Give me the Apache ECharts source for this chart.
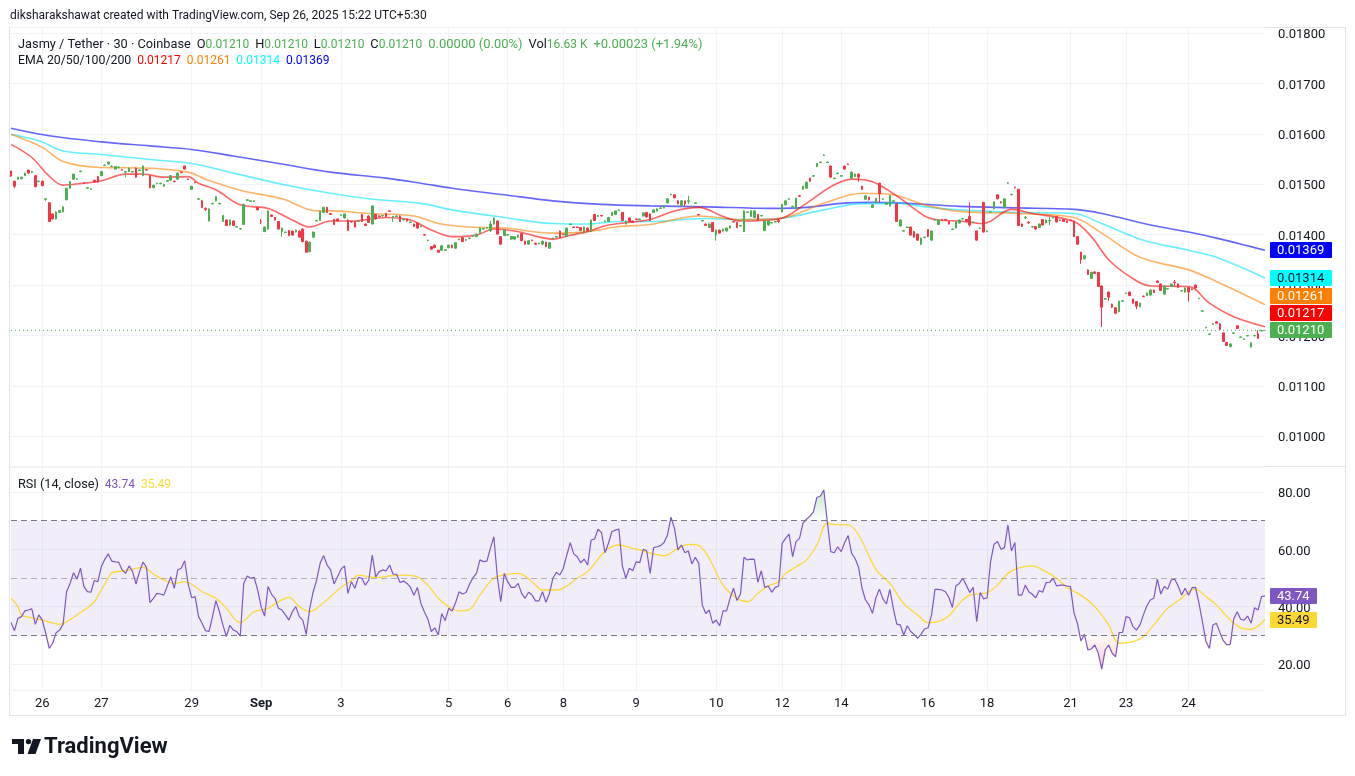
<!DOCTYPE html>
<html><head><meta charset="utf-8">
<script src="https://cdn.jsdelivr.net/npm/echarts@6/dist/echarts.min.js"></script>
<style>html,body{margin:0;padding:0;background:#fff;}#c{width:1355px;height:776px;}</style>
</head><body><div id="c"></div>
<script>
// ---------- data ----------
const dayLabels = ['26','27','29','Sep','3','5','6','8','9','10','12','14','16','18','21','23','24'];
const dayLabelBars = [9,26,52,72,95,126,143,159,180,203,222,239,264,281,305,321,339];

// [open, close, low, high]
const candles = [
[.01526,.01516,.01515,.01527],[.01506,.01496,.01492,.01507],[.0151,.01514,.01509,.01514],[.01511,.01514,.0151,.01515],[.01517,.01522,.01516,.01523],
[.01528,.01522,.01521,.01529],[.01523,.01525,.01522,.01526],[.01517,.01495,.01494,.01518],[.01505,.01506,.01504,.01507],[.01506,.01497,.01496,.01507],
[.0147,.01471,.01467,.01472],[.01463,.01426,.01425,.01464],[.01441,.01431,.0143,.01442],[.01431,.01445,.0143,.01446],[.01444,.01448,.01443,.01449],
[.01445,.01455,.01444,.01456],[.01469,.01492,.01468,.01493],[.01492,.01505,.01491,.01506],[.0151,.0152,.01509,.01521],[.0151,.01511,.01509,.01512],
[.01525,.01526,.01524,.01527],[.01503,.01502,.01501,.01504],[.01492,.01493,.01491,.01494],[.0149,.01491,.01489,.01492],[.01508,.01504,.01503,.01509],
[.01515,.01504,.01503,.01516],[.01517,.01525,.01516,.01526],[.01537,.01538,.01536,.01539],[.0154,.01544,.01539,.01545],[.01535,.01536,.01534,.01537],
[.0153,.01535,.01529,.01536],[.01533,.01534,.01532,.01535],[.01529,.01528,.01527,.0153],[.01524,.01525,.01514,.01526],[.01525,.01532,.01524,.01533],
[.01524,.01525,.01523,.01526],[.01532,.01514,.01513,.01533],[.01527,.01528,.01526,.01529],[.01517,.01536,.01516,.01537],[.01529,.01528,.01527,.0153],
[.01517,.01493,.01492,.01518],[.01493,.01498,.01492,.01499],[.01501,.01502,.015,.01503],[.01501,.01502,.015,.01503],[.01496,.015,.01495,.01501],
[.01506,.01507,.01505,.01508],[.01508,.01517,.01507,.01518],[.01506,.01505,.01504,.01507],[.0151,.01522,.01509,.01523],[.01524,.01523,.01522,.01525],
[.01536,.0153,.01529,.01537],[.0151,.01509,.01508,.01511],[.0149,.01496,.01489,.01497],[.01504,.01503,.01502,.01505],[.0147,.01471,.01469,.01472],
[.01467,.01454,.01453,.01468],[.01452,.0145,.01447,.01454],[.01427,.01451,.01426,.01452],[.01461,.01462,.0146,.01463],[.01467,.01475,.01466,.01476],
[.01461,.01462,.0146,.01463],[.01426,.01438,.01425,.01439],[.01429,.01418,.01417,.0143],[.01419,.01429,.01418,.0143],[.01427,.01418,.01417,.01428],
[.01415,.01416,.01414,.01417],[.01411,.01412,.0141,.01413],[.0142,.0146,.01419,.01461],[.01468,.01469,.01467,.0147],[.01466,.01467,.01465,.01468],
[.01466,.01467,.01465,.01468],[.01454,.01449,.01448,.01455],[.01426,.01425,.01421,.01431],[.01406,.01415,.01405,.01416],[.01411,.01447,.0141,.01448],
[.01439,.01436,.01435,.0144],[.01434,.01429,.01428,.01435],[.01426,.01411,.0141,.01427],[.01406,.01413,.01396,.01414],[.01404,.01405,.01403,.01406],
[.01408,.01398,.01397,.01409],[.01407,.01399,.01398,.01408],[.01405,.01409,.01404,.0141],[.01407,.01395,.01394,.01408],[.01411,.01386,.01385,.01412],
[.01387,.01365,.01364,.01388],[.01366,.01385,.01365,.01386],[.01395,.01405,.01394,.01406],[.01427,.01428,.01426,.01429],[.01428,.01446,.01427,.01447],
[.01444,.01454,.01443,.01455],[.01454,.01444,.01443,.01455],[.01442,.0144,.01439,.01443],
[.0143,.0142,.01419,.01431],[.01431,.01427,.01426,.01432],[.01438,.01439,.01437,.0144],[.01433,.01441,.01432,.01442],[.01429,.01408,.01407,.0143],
[.01426,.01425,.01424,.01427],[.01426,.01415,.01414,.01427],[.01426,.01427,.01425,.01428],[.0144,.01426,.01425,.01441],[.01421,.01418,.01417,.01422],
[.01437,.01424,.01423,.01438],[.01421,.01457,.0142,.01458],[.0144,.01431,.0143,.01441],[.01437,.01436,.01435,.01438],[.01437,.01438,.01436,.01439],
[.01442,.01436,.01435,.01443],[.01447,.01446,.01445,.01448],[.01435,.01436,.01425,.01437],[.01436,.01437,.01435,.01438],[.01437,.01426,.01425,.01438],
[.01429,.0143,.01428,.01431],[.01431,.01427,.01426,.01432],[.01424,.01425,.01423,.01426],[.01421,.01416,.01415,.01422],[.01423,.01413,.01412,.01424],
[.01416,.01417,.01415,.01418],[.014,.01399,.01398,.01401],[.01388,.01389,.01387,.0139],[.01376,.01371,.0137,.01377],[.01379,.01374,.01373,.0138],
[.01369,.01365,.01364,.0137],[.01369,.01378,.01368,.01379],[.01369,.0137,.01368,.01371],[.01374,.01379,.01373,.0138],[.01379,.01374,.01373,.0138],
[.01373,.01384,.01372,.01385],[.0139,.01391,.01389,.01392],[.01394,.01386,.01385,.01395],[.01389,.0139,.01388,.01391],[.01392,.01393,.01391,.01394],
[.01397,.01398,.01396,.01399],[.01396,.01401,.01395,.01402],[.01403,.01413,.01402,.01414],[.01411,.01412,.0141,.01413],[.01413,.01414,.01412,.01415],
[.01408,.01421,.01405,.01427],[.01421,.01433,.0142,.01434],[.01427,.01401,.014,.01428],[.01396,.01381,.0138,.01397],[.01398,.01409,.01397,.0141],
[.01399,.014,.01398,.01401],[.01391,.01396,.0139,.01397],[.01391,.01396,.0139,.01397],[.01395,.01399,.01394,.014],[.01402,.01388,.01387,.01403],
[.01387,.01381,.0138,.01388],[.01381,.01388,.0138,.01389],[.01389,.01388,.01387,.0139],[.01383,.01381,.0138,.01384],[.01382,.01383,.01381,.01384],
[.01381,.01387,.0138,.01388],[.01385,.01376,.01375,.01386],[.01373,.01384,.01372,.01385],[.01392,.01393,.01391,.01394],[.01395,.01396,.01394,.01397],
[.01407,.01394,.01393,.01408],[.01401,.014,.01399,.01402],[.01396,.01413,.01395,.01414],[.0142,.01421,.01419,.01422],[.01415,.01414,.01413,.01416],
[.01415,.01414,.01413,.01416],[.01414,.01408,.01407,.01415],[.01403,.01415,.01402,.01416],[.01413,.01408,.01407,.01414],[.01406,.01429,.01405,.0143],
[.0144,.01428,.01427,.01441],[.01436,.01438,.01435,.01439],[.01438,.01437,.01436,.01439],[.01426,.01427,.01425,.01428],[.01426,.01434,.01425,.01435],
[.01438,.01444,.01437,.01445],[.0144,.01447,.01439,.01448],[.01448,.01449,.01447,.0145],[.01444,.01428,.01427,.01445],[.01421,.01427,.0142,.01428],
[.01433,.01426,.01425,.01434],[.01427,.01424,.01423,.01428],[.01431,.0143,.01429,.01432],[.0143,.01431,.01429,.01432],[.01437,.01443,.01436,.01444],
[.01444,.01435,.01434,.01445],
[.01441,.01428,.01427,.01442],[.01444,.01449,.01443,.0145],[.01447,.01451,.01446,.01452],[.01452,.01453,.01451,.01454],[.01453,.01457,.01452,.01458],
[.01463,.01471,.01462,.01472],[.01479,.0148,.01478,.01481],[.01479,.01473,.01472,.0148],[.01467,.01461,.0146,.01468],[.01457,.01467,.01456,.01468],
[.01467,.01461,.01456,.01467],[.01466,.01467,.01461,.01477],[.01455,.01456,.01454,.01457],[.01462,.01463,.01461,.01464],[.0144,.01439,.01438,.01441],
[.01427,.01428,.01426,.01429],[.01421,.01418,.01417,.01422],[.01414,.01421,.01413,.01422],[.01424,.01406,.01405,.01425],[.01399,.01409,.01388,.0141],
[.01409,.01403,.01402,.0141],[.01407,.01411,.01406,.01412],[.01407,.01413,.01406,.01414],[.01413,.01417,.01412,.01418],[.01426,.01425,.01424,.01427],
[.01424,.01414,.01413,.01425],[.01417,.01418,.01416,.01419],[.01406,.01447,.01405,.01448],[.01444,.01445,.01443,.01446],[.01436,.01447,.01435,.01448],
[.01434,.01447,.01433,.01448],[.0144,.01429,.01428,.01441],[.01437,.01438,.01436,.01439],[.01408,.01427,.01407,.01428],[.01419,.01427,.01418,.01428],
[.01423,.01424,.01422,.01425],[.01425,.01426,.01424,.01427],[.01428,.01426,.01423,.01433],[.01445,.0146,.01444,.01461],[.01459,.01467,.01458,.01468],
[.0147,.01471,.01469,.01472],[.01455,.01456,.01454,.01457],[.01451,.01472,.0145,.01473],[.01477,.01476,.01475,.01478],[.0149,.01496,.01489,.01497],
[.01492,.01504,.01491,.01505],[.01512,.01506,.01505,.01513],[.01516,.01517,.01515,.01518],[.01535,.01541,.01534,.01542],[.01543,.01544,.01542,.01545],
[.01557,.01558,.01556,.01559],[.01543,.01544,.01542,.01545],[.01536,.01514,.01513,.01537],[.01511,.01512,.0151,.01513],[.01521,.01522,.0152,.01523],
[.01516,.01517,.01515,.01518],[.01536,.0153,.01529,.01537],[.0154,.01539,.01538,.01541],[.01512,.01524,.01511,.01525],[.01515,.0152,.01514,.01521],
[.0152,.01514,.01505,.01521],[.01496,.0149,.01489,.01497],[.0147,.01477,.01469,.01478],[.01474,.01469,.01468,.01475],[.01454,.01459,.01453,.0146],
[.01463,.01472,.01462,.01473],[.01502,.01481,.01463,.01503],[.0147,.01471,.01469,.01472],[.0146,.01463,.01459,.01464],[.01457,.01477,.01456,.01478],
[.01466,.01467,.01465,.01468],[.01461,.01426,.01425,.01462],[.01417,.01429,.01416,.0143],[.01407,.01408,.01406,.01409],[.01414,.01415,.01413,.01416],
[.01415,.01399,.01398,.01416],[.01406,.01395,.01394,.01407],[.01401,.01389,.01388,.01402],[.01381,.01393,.01379,.01394],[.01394,.01395,.01393,.01396],
[.0141,.01396,.01395,.01411],[.01389,.01407,.01388,.01408],[.01429,.0143,.01428,.01431],[.0142,.01429,.01419,.0143],[.0143,.01429,.01428,.01431],
[.0143,.01429,.01428,.01431],[.01426,.01421,.0142,.01427],[.0141,.01411,.01409,.01412],[.01413,.01426,.01412,.01427],[.01423,.01429,.01422,.0143],
[.01431,.01432,.0143,.01433],[.0143,.01426,.01425,.01431],[.01436,.01419,.01416,.01464],[.01424,.01425,.01423,.01426],[.01407,.01389,.01388,.01408],
[.01412,.01413,.01411,.01414],[.01464,.01405,.01404,.01465],[.01406,.01407,.01405,.01408],[.01444,.01445,.01443,.01446],[.01451,.01465,.0145,.01466],
[.01479,.01471,.0147,.0148],[.01465,.01463,.01462,.01466],[.01454,.01471,.01453,.01472],[.01502,.01503,.01501,.01504],[.01479,.0148,.01478,.01481],
[.01494,.01493,.01492,.01495],[.0149,.01418,.01417,.01491],[.01421,.01416,.01415,.01422],[.01433,.01434,.01431,.01437],[.01425,.01423,.01422,.01426],
[.01415,.01416,.01414,.01417],[.01416,.01411,.0141,.01417],[.01414,.01421,.01413,.01422],[.0143,.01419,.01418,.01431],[.01423,.01429,.01422,.0143],
[.01427,.01428,.01419,.01435],[.01433,.01434,.01432,.01435],[.01436,.01425,.01424,.01437],[.01429,.01428,.01427,.0143],[.0143,.01426,.01425,.01431],
[.01427,.01424,.01423,.01428],[.01429,.01428,.01427,.0143],[.01427,.01396,.01395,.01428],[.01396,.01381,.0138,.01397],[.01365,.0135,.01342,.01366],
[.01352,.01358,.01351,.01359],[.0133,.01321,.0132,.01331],[.01313,.01325,.01312,.01326],[.01326,.01323,.01322,.01327],[.01325,.01297,.01296,.01326],
[.01298,.01256,.01217,.01299],[.01272,.01273,.01271,.01274],[.01286,.01276,.01268,.01287],[.01262,.01256,.01255,.01263],[.01255,.01244,.01243,.01256],
[.01247,.01268,.01246,.01269],[.01268,.01269,.01267,.0127],[.01283,.01284,.01282,.01285],[.01286,.01279,.01278,.01287],[.01272,.01264,.01263,.01273],
[.01267,.01258,.01252,.01268],[.01257,.01264,.01256,.01265],[.01278,.01277,.01276,.01279],[.01279,.01284,.01278,.01285],[.0128,.0129,.01279,.01291],
[.0129,.01285,.01284,.01291],[.01308,.01305,.01304,.01309],[.01302,.01289,.01288,.01303],[.01282,.01298,.01281,.01299],[.01292,.01293,.01291,.01294],
[.01297,.01302,.01296,.01303],[.01306,.01305,.01297,.0131],[.01302,.01295,.01294,.01303],[.01288,.01289,.01287,.0129],[.01286,.01294,.01285,.01295],
[.01295,.01286,.01267,.01296],[.01292,.01291,.0129,.01293],[.013,.01294,.01293,.01301],[.01273,.01274,.01272,.01275],[.01248,.01249,.01247,.0125],
[.01215,.01216,.01214,.01217],[.01202,.01203,.01201,.01204],[.01222,.01223,.01221,.01224],[.01227,.01224,.01223,.01228],[.01223,.01212,.01211,.01224],
[.01205,.01188,.01187,.01206],[.01186,.0118,.01179,.01187],[.01178,.01183,.01176,.01184],[.01204,.01205,.01203,.01206],[.01219,.01214,.01213,.0122],
[.01196,.01197,.01195,.01198],[.01192,.01193,.01191,.01194],[.01199,.012,.01198,.01201],[.01177,.01185,.01176,.01186],[.01199,.012,.01198,.01201],
[.01203,.01194,.01193,.01211],[.01209,.0121,.01208,.01211],[.0121,.0121,.0121,.0121]
];

// EMA lines: [bar index, value] points
const ema200 = [[0,.01611],[11,.01596],[26,.01584],[40,.01576],[52,.01569],[64,.01556],[78,.0154],[92,.01524],[108,.01512],[118,.01502],[127,.01492],[142,.01479],[156,.01467],[170,.0146],[184,.01457],[200,.01455],[219,.01452],[229,.01454],[239,.01462],[248,.01464],[258,.01462],[273,.01456],[290,.01453],[306,.0145],[314,.01442],[328,.01419],[339,.01405],[347,.01393],[361,.01369]];
const ema100 = [[0,.01599],[8,.01586],[15,.01566],[26,.01559],[40,.01549],[52,.01541],[64,.01522],[78,.015],[92,.01482],[103,.01471],[118,.01462],[127,.01449],[142,.01434],[156,.01422],[166,.01421],[175,.01426],[184,.01426],[200,.01432],[210,.0143],[221,.01432],[234,.01449],[244,.01461],[256,.01462],[263,.01455],[273,.01449],[290,.01444],[306,.01442],[314,.01422],[326,.01389],[339,.01369],[347,.01355],[361,.01314]];
const ema50 = [[0,.01599],[9,.01573],[15,.01545],[26,.01533],[38,.01532],[51,.01524],[56,.0151],[66,.01488],[78,.01471],[88,.01447],[92,.01447],[103,.01442],[116,.01437],[123,.01422],[132,.01415],[142,.01413],[156,.01403],[166,.01406],[175,.01416],[184,.0142],[198,.01437],[210,.0143],[221,.01432],[234,.01462],[245,.01482],[254,.01479],[263,.01459],[273,.01446],[290,.01442],[306,.01434],[314,.01403],[325,.01355],[339,.0133],[347,.01307],[361,.01261]];
const ema20 = [[0,.01579],[6,.01553],[11,.01516],[15,.01498],[21,.01502],[26,.01507],[33,.0152],[38,.0152],[44,.01514],[51,.01515],[54,.01502],[59,.01489],[66,.01459],[74,.01452],[81,.01429],[86,.01415],[92,.01427],[98,.01427],[108,.01434],[115,.01429],[121,.01409],[127,.01396],[134,.01399],[139,.01411],[145,.01407],[151,.01397],[156,.01391],[160,.01397],[166,.01406],[172,.01419],[184,.0143],[191,.01447],[198,.01454],[205,.01436],[210,.01427],[221,.01431],[229,.01462],[236,.01495],[242,.0151],[248,.01505],[256,.01472],[263,.01437],[267,.01429],[273,.01427],[280,.01422],[288,.0145],[294,.01442],[306,.01426],[311,.01396],[316,.0135],[322,.01317],[328,.01298],[339,.01297],[345,.01264],[352,.01237],[361,.01217]];

// RSI (14, close), one value per bar
const rsi = [
34.5,31.6,35.9,36.5,38.5,38.8,39.2,33.8,37.1,35.3,30.7,25.4,27.2,30.9,31.8,33.9,45.2,48.1,51.8,49.6,
53.4,47.0,45.2,45.0,49.1,48.7,53.9,56.5,58.4,55.9,55.6,55.5,52.8,51.6,54.2,52.2,47.9,52.2,55.5,53.7,
41.4,42.9,44.6,44.4,44.0,47.2,50.4,46.4,52.8,53.4,56.0,47.9,43.1,43.5,36.5,34.2,31.6,31.3,36.5,42.1,
38.2,33.6,29.5,33.5,31.8,31.3,29.7,48.1,50.7,49.9,50.2,45.8,40.0,36.7,47.0,44.3,42.9,39.4,38.8,37.1,
35.3,38.2,40.0,36.5,35.3,30.3,39.4,45.2,49.3,55.1,57.8,54.5,52.8,
47.9,50.4,53.0,54.2,44.6,48.7,46.4,50.2,49.9,47.5,49.3,58.0,50.4,52.2,52.8,52.5,54.5,51.3,51.3,48.4,
48.9,48.1,46.7,44.0,46.7,41.1,38.2,35.6,31.3,32.6,30.1,37.6,35.1,39.4,38.5,41.4,45.2,44.4,44.9,47.8,
50.1,51.6,56.3,55.7,55.9,60.3,64.4,50.4,41.7,51.6,48.7,46.7,46.7,48.1,44.6,42.9,45.0,44.0,42.0,42.0,
45.2,41.5,44.6,49.9,52.0,51.0,53.4,58.0,62.3,58.4,57.4,55.3,56.6,54.5,63.2,63.6,67.0,65.8,58.8,62.1,
66.2,66.7,67.1,54.2,49.9,53.4,52.5,55.7,55.3,60.0,59.5,51.6,
60.6,60.9,61.3,62.4,65.0,71.2,67.3,59.8,61.5,58.8,59.4,54.9,57.2,55.1,40.6,37.6,38.8,34.2,35.3,33.3,
38.5,38.5,42.9,46.4,42.1,44.4,57.2,56.3,56.6,56.5,48.5,52.5,46.7,47.2,45.0,46.7,47.2,62.1,63.8,65.3,
57.4,62.7,63.8,69.1,70.5,71.6,73.1,78.1,78.6,80.7,69.6,59.2,58.8,60.9,59.2,62.4,64.8,58.6,56.8,53.7,
46.4,42.3,40.6,37.6,43.1,46.1,42.7,40.9,46.0,39.4,33.9,33.6,30.1,33.3,31.3,30.3,28.9,30.4,32.2,32.6,
37.1,46.0,46.0,45.8,45.2,43.2,39.7,47.2,48.1,
49.9,47.5,44.9,46.7,34.7,44.9,42.7,43.1,55.7,61.8,62.7,60.0,60.6,68.5,59.4,62.4,44.0,44.0,47.5,45.2,
44.3,43.1,45.6,45.0,48.4,48.5,49.9,47.2,47.5,47.5,47.2,47.0,37.9,34.2,28.0,30.3,24.9,25.2,26.6,23.7,
18.2,24.9,26.6,23.7,22.5,30.9,31.0,36.5,36.1,33.0,31.8,33.6,37.1,40.3,42.3,42.9,49.6,44.4,47.0,46.1,
49.3,49.6,47.2,44.0,46.4,44.0,46.6,46.7,41.1,34.7,27.8,25.4,33.6,34.2,31.0,28.1,26.6,26.8,35.7,38.2,
35.6,35.3,36.7,34.2,39.6,38.8,43.5,43.74
];
// RSI-based MA: [bar index, value]
const rsiMA = [[0,42.9],[2,40.0],[3,37.1],[6,36.1],[9,35.3],[14,33.8],[16,34.7],[19,37.1],[22,39.6],[24,41.7],[26,45.8],[28,49.9],[29,51.8],[32,52.4],[35,53.1],[38,53.7],[41,51.4],[44,49.3],[47,48.1],[50,48.7],[53,47.0],[55,45.2],[59,42.9],[62,39.4],[66,34.4],[70,38.2],[74,39.4],[77,41.7],[80,43.2],[83,40.0],[86,38.2],[89,40.4],[92,43.5],[95,46.7],[98,49.1],[100,51.0],[103,50.4],[106,50.2],[109,50.7],[113,51.0],[117,50.4],[120,47.5],[123,42.9],[126,40.0],[129,38.5],[132,39.0],[135,44.0],[139,49.9],[143,51.3],[146,51.6],[150,48.7],[153,45.8],[157,45.8],[160,47.2],[163,49.9],[166,52.2],[170,58.0],[172,60.3],[175,61.5],[179,60.3],[181,59.8],[185,58.4],[188,57.7],[192,60.3],[195,61.7],[198,61.3],[201,56.8],[205,47.5],[209,42.9],[212,41.7],[215,44.6],[218,47.2],[221,48.7],[223,51.6],[226,53.9],[229,56.3],[232,61.5],[235,69.1],[238,68.5],[241,68.5],[244,65.0],[249,53.0],[253,48.1],[257,41.1],[261,37.1],[264,34.4],[267,34.8],[270,36.7],[273,41.1],[276,44.0],[281,44.9],[284,47.5],[287,51.6],[290,53.4],[294,54.2],[297,52.8],[301,49.9],[304,46.7],[308,44.0],[312,40.0],[316,33.6],[319,27.2],[323,27.8],[326,29.5],[329,33.6],[333,39.4],[337,42.9],[339,45.2],[341,46.1],[344,43.5],[347,40.6],[351,35.3],[354,32.6],[357,32.1],[361,35.49]];

const rsiLevels = [70, 50, 30];
const headerText = 'diksharakshawat created with TradingView.com, Sep 26, 2025 15:22 UTC+5:30';
const symbolText = 'Jasmy / Tether · 30 · Coinbase';
const changeText = '0.00000 (0.00%)';
const volText = '16.63 K';
const dayChangeText = '+0.00023 (+1.94%)';

// ---------- chart ----------
const FONT = 'Roboto, "Noto Sans", sans-serif';
const TXT = '#131722';
const GRID = '#f0f3fa';
const N = candles.length;
const cats = candles.map((_, i) => String(i));
const labelAt = {};
dayLabelBars.forEach((b, k) => { labelAt[b] = dayLabels[k]; });
const isDay = (i) => labelAt[i] !== undefined;
const last = candles[N - 1];
const f5 = (v) => v.toFixed(5);
const lastOf = (a) => a[a.length - 1][1];

const chart = echarts.init(document.getElementById('c'));

const emaLine = (name, data, color, extra) => Object.assign({
  name, type: 'line', xAxisIndex: 0, yAxisIndex: 0, data, smooth: 0.35,
  showSymbol: false, silent: true, z: 3,
  lineStyle: { color, width: 1.6, opacity: 0.6 }
}, extra || {});

const T = (size, color, weight) => ({ fill: color, fontSize: size, fontFamily: FONT, fontWeight: weight || 'normal' });

const option = {
  animation: false,
  backgroundColor: '#ffffff',
  grid: [
    { left: 11, right: 90, top: 27, height: 439 },
    { left: 11, right: 90, top: 467, height: 223 }
  ],
  xAxis: [
    { type: 'category', gridIndex: 0, data: cats, boundaryGap: false,
      axisLine: { show: false }, axisTick: { show: false }, axisLabel: { show: false },
      splitLine: { show: true, interval: (i) => isDay(i), lineStyle: { color: GRID, width: 1 } } },
    { type: 'category', gridIndex: 1, data: cats, boundaryGap: false,
      axisLine: { show: false }, axisTick: { show: false },
      axisLabel: { show: true, interval: (i) => isDay(i), margin: 7, color: TXT, fontSize: 13, fontFamily: FONT,
        formatter: (v) => { const t = labelAt[Number(v)] || ''; return t === 'Sep' ? '{b|Sep}' : t; },
        rich: { b: { fontWeight: 'bold', fontSize: 13, fontFamily: FONT, color: TXT } } },
      splitLine: { show: true, interval: (i) => isDay(i), lineStyle: { color: GRID, width: 1 } } }
  ],
  yAxis: [
    { type: 'value', gridIndex: 0, position: 'right', min: 0.009409, max: 0.018119, splitNumber: 8, scale: true,
      axisLine: { show: false }, axisTick: { show: false },
      axisLabel: { formatter: (v) => v.toFixed(5), showMinLabel: false, showMaxLabel: false,
        color: TXT, fontSize: 13, fontFamily: FONT, align: 'left', margin: 13, verticalAlign: 'top', lineHeight: 4 },
      splitLine: { lineStyle: { color: GRID } } },
    { type: 'value', gridIndex: 1, position: 'right', min: 10.89, max: 88.73, splitNumber: 4, scale: true,
      axisLine: { show: false }, axisTick: { show: false },
      axisLabel: { formatter: (v) => v.toFixed(2), showMinLabel: false, showMaxLabel: false,
        color: TXT, fontSize: 13, fontFamily: FONT, align: 'left', margin: 13, verticalAlign: 'top', lineHeight: 4 },
      splitLine: { lineStyle: { color: GRID } } }
  ],
  series: [
    emaLine('EMA200', ema200, '#0000ff'),
    emaLine('EMA100', ema100, '#00e5ff'),
    emaLine('EMA50', ema50, '#ff8000'),
    emaLine('EMA20', ema20, '#ff0000'),
    { name: 'LastPrice', type: 'line', xAxisIndex: 0, yAxisIndex: 0, silent: true, showSymbol: false, z: 2,
      data: [[0, last[1]], [N - 1, last[1]]],
      lineStyle: { color: '#4caf50', type: [1, 3], width: 1 } },
    { name: 'Jasmy', type: 'candlestick', xAxisIndex: 0, yAxisIndex: 0, data: candles, z: 4,
      barWidth: '60%', clip: false, silent: true,
      itemStyle: { color: '#4caf50', color0: '#f23645', borderColor: '#4caf50', borderColor0: '#f23645', borderWidth: 1 } },
    { name: 'OB', type: 'line', xAxisIndex: 1, yAxisIndex: 1, silent: true, showSymbol: false, z: 1,
      data: rsi.map(v => Math.max(v, rsiLevels[0])), lineStyle: { width: 0 },
      areaStyle: { origin: rsiLevels[0], color: new echarts.graphic.LinearGradient(0, 0, 0, 1, [
        { offset: 0, color: 'rgba(76,175,80,0.45)' }, { offset: 1, color: 'rgba(76,175,80,0.02)' }]) } },
    { name: 'OS', type: 'line', xAxisIndex: 1, yAxisIndex: 1, silent: true, showSymbol: false, z: 1,
      data: rsi.map(v => Math.min(v, rsiLevels[2])), lineStyle: { width: 0 },
      areaStyle: { origin: rsiLevels[2], color: new echarts.graphic.LinearGradient(0, 0, 0, 1, [
        { offset: 0, color: 'rgba(242,54,69,0.02)' }, { offset: 1, color: 'rgba(242,54,69,0.4)' }]) } },
    { name: 'RSI-MA', type: 'line', xAxisIndex: 1, yAxisIndex: 1, data: rsiMA, smooth: 0.35, silent: true,
      showSymbol: false, z: 3, lineStyle: { color: '#fdd835', width: 1.3 } },
    { name: 'RSI', type: 'line', xAxisIndex: 1, yAxisIndex: 1, data: rsi, silent: true, showSymbol: false, z: 4,
      lineStyle: { color: '#7e57c2', width: 1.2 },
      markArea: { silent: true, itemStyle: { color: 'rgba(126,87,194,0.1)' },
        data: [[{ yAxis: rsiLevels[2] }, { yAxis: rsiLevels[0] }]] },
      markLine: { silent: true, symbol: 'none', label: { show: false },
        data: [
          { yAxis: rsiLevels[0], lineStyle: { color: '#787b86', type: [6, 4], width: 1 } },
          { yAxis: rsiLevels[1], lineStyle: { color: 'rgba(120,123,134,0.55)', type: [6, 4], width: 1 } },
          { yAxis: rsiLevels[2], lineStyle: { color: '#787b86', type: [6, 4], width: 1 } }
        ] } }
  ],
  graphic: [
    { type: 'rect', z: 0, silent: true, shape: { x: 9.5, y: 27.5, width: 1336, height: 688 },
      style: { fill: 'none', stroke: '#e0e3eb', lineWidth: 1 } },
    { type: 'line', z: 0, silent: true, shape: { x1: 9.5, y1: 466.5, x2: 1345.5, y2: 466.5 },
      style: { stroke: '#e0e3eb', lineWidth: 1 } },
    { type: 'text', z: 50, silent: true,
      style: { x: 10, y: 16, text: headerText, fill: TXT, font: '12px ' + FONT, verticalAlign: 'middle', textVerticalAlign: 'middle' } },
    { type: 'text', z: 50, silent: true,
      style: { x: 18, y: 45, verticalAlign: 'middle', textVerticalAlign: 'middle', font: '12px ' + FONT,
        text: `{d|${symbolText}}  {d|O}{g|${f5(last[0])}}  {d|H}{g|${f5(last[3])}}  {d|L}{g|${f5(last[2])}}  {d|C}{g|${f5(last[1])}}  {G|${changeText}}  {d|Vol}{g|${volText}}  {G|${dayChangeText}}`,
        rich: { d: T(12.8, TXT), g: T(12, '#4caf50'), G: T(13, '#4caf50') } } },
    { type: 'text', z: 50, silent: true,
      style: { x: 18, y: 61, verticalAlign: 'middle', textVerticalAlign: 'middle', font: '12px ' + FONT,
        text: `{d|EMA 20/50/100/200}  {r|${f5(lastOf(ema20))}}  {o|${f5(lastOf(ema50))}}  {c|${f5(lastOf(ema100))}}  {b|${f5(lastOf(ema200))}}`,
        rich: { d: T(12.3, TXT), r: T(12, '#ff0000'), o: T(12, '#ff8000'), c: T(12, '#00ffff'), b: T(12, '#0000ff') } } },
    { type: 'text', z: 50, silent: true,
      style: { x: 18, y: 485, verticalAlign: 'middle', textVerticalAlign: 'middle', font: '12px ' + FONT,
        text: `{d|RSI (14, close)}  {p|${rsi[N - 1].toFixed(2)}}  {y|${lastOf(rsiMA).toFixed(2)}}`,
        rich: { d: T(12.7, TXT), p: T(12, '#7e57c2'), y: T(12, '#fdd835') } } },
    // TradingView logo
    { type: 'group', silent: true, z: 50, children: [
      { type: 'rect', shape: { x: 12, y: 739, width: 12, height: 5 }, style: { fill: TXT } },
      { type: 'rect', shape: { x: 18, y: 739, width: 6, height: 15 }, style: { fill: TXT } },
      { type: 'circle', shape: { cx: 28.5, cy: 741.6, r: 2.7 }, style: { fill: TXT } },
      { type: 'polygon', shape: { points: [[33, 739], [41, 739], [35.5, 754], [27.5, 754]] }, style: { fill: TXT } },
      { type: 'text', style: { x: 44, y: 747, text: 'TradingView', fill: TXT, font: 'bold 22px ' + FONT,
        verticalAlign: 'middle', textVerticalAlign: 'middle' } }
    ] }
  ]
};
chart.setOption(option);

// ---------- value badges on the price scales (placed through the axes) ----------
function badge(y, text, bg, fg, w) {
  return [
    { type: 'rect', z: 60, silent: true, shape: { x: 1270, y: Math.round(y) - 8, width: w, height: 16, r: 1 }, style: { fill: bg } },
    { type: 'text', z: 61, silent: true, style: { x: 1277, y: Math.round(y) + 1, text, fill: fg, font: '13px ' + FONT,
      verticalAlign: 'middle', textVerticalAlign: 'middle' } }
  ];
}
const mainBadges = [
  { v: lastOf(ema200), bg: '#0000ff', fg: '#ffffff' },
  { v: lastOf(ema100), bg: '#00ffff', fg: '#131722' },
  { v: lastOf(ema50), bg: '#ff8000', fg: '#ffffff' },
  { v: lastOf(ema20), bg: '#ff0000', fg: '#ffffff' },
  { v: last[1], bg: '#4caf50', fg: '#ffffff' }
].map(b => Object.assign(b, { y: chart.convertToPixel({ yAxisIndex: 0 }, b.v) }));
mainBadges.sort((a, b) => b.y - a.y);
let prevY = Infinity;
const extra = [];
mainBadges.forEach(b => {
  b.y = Math.min(b.y, prevY - 17);
  prevY = b.y;
  extra.push(...badge(b.y, f5(b.v), b.bg, b.fg, 62));
});
const rsiBadges = [
  { v: rsi[N - 1], bg: '#7e57c2', fg: '#ffffff' },
  { v: lastOf(rsiMA), bg: '#fdd835', fg: '#131722' }
];
rsiBadges.forEach(b => {
  const y = chart.convertToPixel({ yAxisIndex: 1 }, b.v);
  extra.push(...badge(y, b.v.toFixed(2), b.bg, b.fg, 47));
});
chart.setOption({ graphic: option.graphic.concat(extra) });
</script>
</body></html>
